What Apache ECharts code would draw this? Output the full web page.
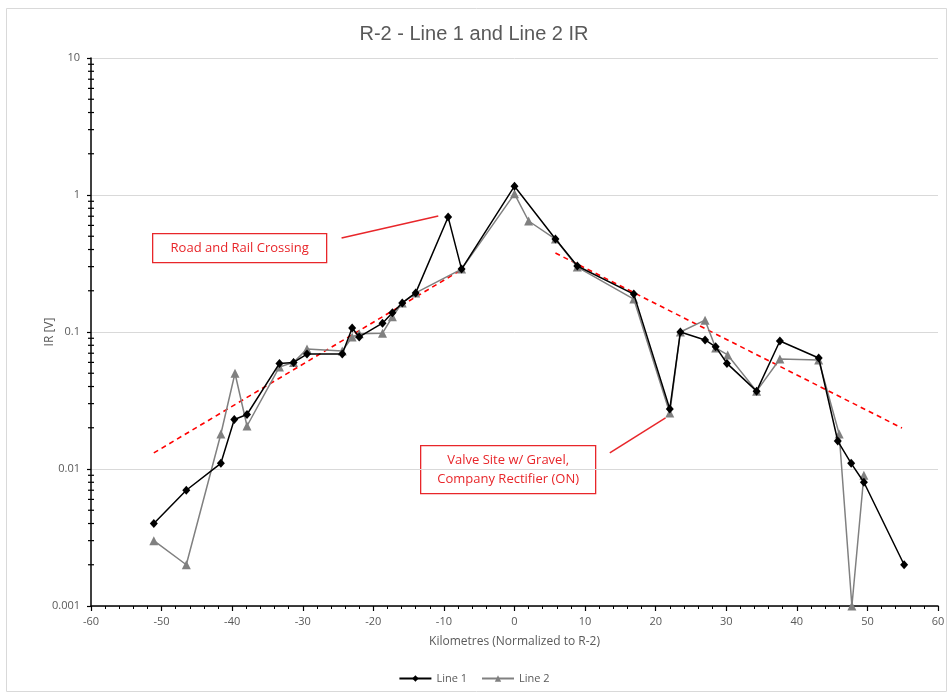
<!DOCTYPE html>
<html><head><meta charset="utf-8">
<script src="https://cdn.jsdelivr.net/npm/echarts@6/dist/echarts.min.js"></script>
<style>html,body{margin:0;padding:0;background:#fff}#c{width:948px;height:694px}</style>
</head><body><div id="c"></div>
<script>
// ---- data ----
const line1X = [-51.1,-46.5,-41.6,-39.7,-37.9,-33.3,-31.3,-29.4,-24.4,-23.0,-22.0,-18.7,-17.3,-15.9,-14.0,-9.4,-7.5,0,5.8,8.9,16.9,22.0,23.5,27.0,28.5,30.1,34.3,37.6,43.1,45.8,47.7,49.5,55.2];
const line1Y = [0.004,0.007,0.011,0.023,0.025,0.059,0.060,0.069,0.069,0.107,0.092,0.116,0.138,0.163,0.193,0.69,0.288,1.16,0.477,0.303,0.189,0.0274,0.100,0.0875,0.078,0.059,0.037,0.086,0.0646,0.016,0.011,0.008,0.002];
const line2X = [-51.1,-46.5,-41.6,-39.6,-37.9,-33.3,-31.3,-29.4,-24.4,-23.0,-22.0,-18.7,-17.3,-15.9,-14.0,-7.5,0,2.0,5.8,8.9,16.9,22.0,23.5,27.0,28.5,30.2,34.3,37.6,43.1,46.0,47.8,49.5];
const line2Y = [0.003,0.002,0.018,0.050,0.0206,0.0556,0.060,0.075,0.0727,0.092,0.097,0.098,0.129,0.163,0.193,0.288,1.02,0.646,0.477,0.298,0.174,0.0256,0.100,0.122,0.0765,0.068,0.037,0.0635,0.0625,0.018,0.001,0.009];
const trendLeftX = [-51.1,-7.5];
const trendLeftY = [0.0131,0.285];
const trendRightX = [5.8,54.9];
const trendRightY = [0.377,0.0199];
const yMinorTicks = [0.002,0.003,0.004,0.005,0.006,0.007,0.008,0.009,0.02,0.03,0.04,0.05,0.06,0.07,0.08,0.09,0.2,0.3,0.4,0.5,0.6,0.7,0.8,0.9,2,3,4,5,6,7,8,9];
const roadPointer = [[-24.5,0.486],[-10.8,0.703]];
const valvePointer = [[13.5,0.0131],[21.4,0.0236]];
const titleText = 'R-2 - Line 1 and Line 2 IR';
const xTitle = 'Kilometres (Normalized to R-2)';
const yTitle = 'IR [V]';

const zip = (xs, ys) => xs.map((x, i) => [x, ys[i]]);
const RED = '#e8262a';
const FONT = 'Open Sans';

const chart = echarts.init(document.getElementById('c'));
chart.setOption({
  animation: false,
  backgroundColor: '#fff',
  title: { text: titleText, left: 'center', top: 19,
    textStyle: { color: '#595959', fontSize: 20, fontWeight: 'normal', fontFamily: 'Liberation Sans' } },
  legend: { bottom: 5, left: 'center', itemWidth: 32, itemHeight: 8, itemGap: 14,
    data: ['Line 1', 'Line 2'],
    textStyle: { color: '#595959', fontSize: 11, fontFamily: FONT } },
  grid: { left: 91, right: 10, top: 58, bottom: 88 },
  xAxis: { type: 'value', min: -60, max: 60, interval: 10,
    name: xTitle, nameLocation: 'middle', nameGap: 30, nameMoveOverlap: false,
    nameTextStyle: { color: '#595959', fontSize: 12, fontFamily: FONT },
    axisLine: { onZero: false, lineStyle: { color: '#000', width: 1.5 } },
    axisTick: { show: true, length: 5, lineStyle: { color: '#000', width: 1.2 } },
    minorTick: { show: true, splitNumber: 5, length: 3, lineStyle: { color: '#000', width: 1 } },
    axisLabel: { color: '#595959', fontSize: 11, fontFamily: FONT, margin: 10 },
    splitLine: { show: false } },
  yAxis: { type: 'log', min: 0.001, max: 10, logBase: 10,
    name: yTitle, nameLocation: 'middle', nameGap: 35, nameRotate: 90, nameMoveOverlap: false,
    nameTextStyle: { color: '#595959', fontSize: 12, fontFamily: FONT },
    axisLine: { show: true, onZero: false, lineStyle: { color: '#000', width: 1.5 } },
    axisTick: { show: true, length: 4, lineStyle: { color: '#000', width: 1.2 } },
    axisLabel: { color: '#595959', fontSize: 11, fontFamily: FONT, margin: 11,
      formatter: v => String(v) },
    splitLine: { show: true, lineStyle: { color: '#d9d9d9', width: 1 } } },
  series: [
    { name: 'yMinor', type: 'custom', silent: true, z: 5,
      data: yMinorTicks.map(v => [-60, v]),
      renderItem: (params, api) => {
        const p = api.coord([api.value(0), api.value(1)]);
        return { type: 'line', shape: { x1: p[0] - 3, y1: p[1], x2: p[0] + 3, y2: p[1] },
          style: { stroke: '#000', lineWidth: 1.2 } };
      } },
    { name: 'trendL', type: 'line', data: zip(trendLeftX, trendLeftY), symbol: 'none', silent: true, z: 1,
      lineStyle: { color: '#ff0000', width: 1.6, type: [5, 4] } },
    { name: 'trendR', type: 'line', data: zip(trendRightX, trendRightY), symbol: 'none', silent: true, z: 1,
      lineStyle: { color: '#ff0000', width: 1.6, type: [5, 4] } },
    { name: 'Line 2', type: 'line', data: zip(line2X, line2Y), symbol: 'triangle', symbolSize: 9, z: 3,
      itemStyle: { color: '#808080' }, lineStyle: { color: '#808080', width: 1.5 } },
    { name: 'Line 1', type: 'line', data: zip(line1X, line1Y), symbol: 'diamond', symbolSize: [8, 9], z: 4,
      itemStyle: { color: '#000' }, lineStyle: { color: '#000', width: 1.5 },
      markLine: { silent: true, symbol: 'none', label: { show: false },
        lineStyle: { color: RED, width: 1.5, type: 'solid' },
        data: [
          [{ coord: roadPointer[0] }, { coord: roadPointer[1] }],
          [{ coord: valvePointer[0] }, { coord: valvePointer[1] }]
        ] } }
  ],
  graphic: [
    { type: 'rect', left: 4, top: 6, z: -10, silent: true,
      shape: { width: 940, height: 683 }, style: { fill: 'none', stroke: '#d9d9d9', lineWidth: 1 } },
    { type: 'group', left: 152, top: 233, children: [
      { type: 'rect', shape: { width: 174, height: 29 }, style: { fill: '#fff', stroke: RED, lineWidth: 1.3 } },
      { type: 'text', x: 87, y: 14.5, style: { text: 'Road and Rail Crossing', fill: RED, fontSize: 13,
        fontFamily: FONT, align: 'center', verticalAlign: 'middle' } }
    ] },
    { type: 'group', left: 420, top: 445, children: [
      { type: 'rect', shape: { width: 175, height: 48 }, style: { fill: '#fff', stroke: RED, lineWidth: 1.3 } },
      { type: 'text', x: 87.5, y: 24, style: { text: 'Valve Site w/ Gravel,\nCompany Rectifier (ON)', fill: RED,
        fontSize: 13, lineHeight: 19, fontFamily: FONT, align: 'center', verticalAlign: 'middle' } }
    ] }
  ]
});
</script></body></html>
